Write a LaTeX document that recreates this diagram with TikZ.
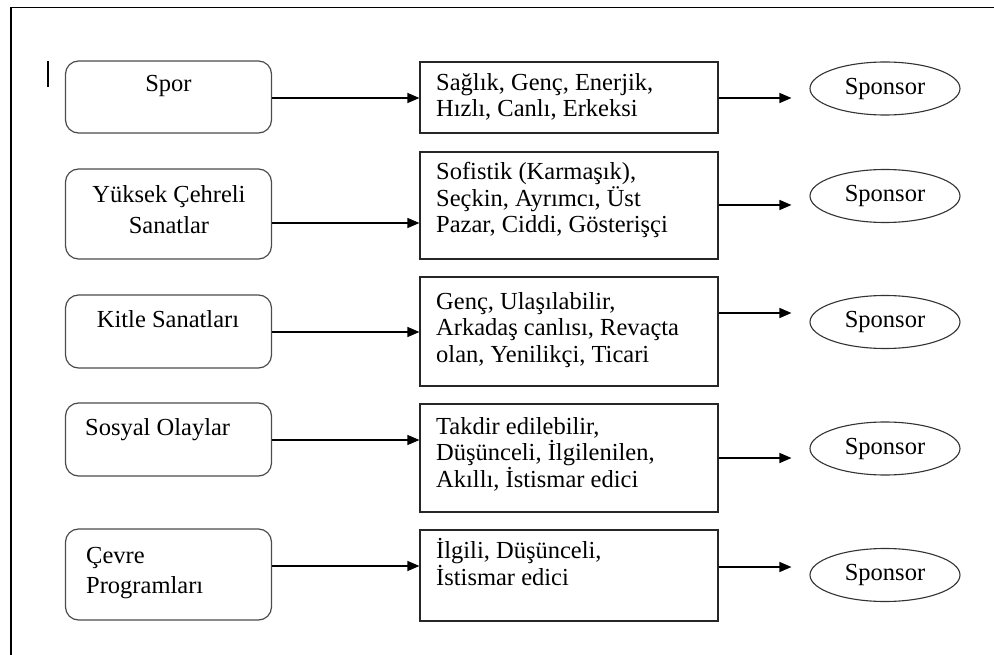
\documentclass[tikz,border=0pt]{standalone}
\usepackage{fontspec}
\setmainfont{Liberation Serif}
\usetikzlibrary{arrows.meta,shapes.geometric}

\tikzset{
  sidebox/.style={draw=black!70, line width=1.2pt, rounded corners=13pt,
    minimum width=206pt, inner sep=0pt},
  tagbox/.style={draw=black!85, line width=1.2pt, minimum width=298pt, inner sep=0pt},
  sponsor/.style={draw=black!80, line width=1.1pt, ellipse, minimum width=150pt,
    minimum height=53pt, inner sep=0pt, font=\fontsize{24.5}{26.5}\selectfont},
  txt/.style={inner sep=0pt, align=left, font=\fontsize{24.5}{26.5}\selectfont},
  ctxt/.style={inner sep=0pt, align=center, font=\fontsize{24.5}{31}\selectfont},
  arr/.style={draw=black, line width=1.3pt, -{Triangle[length=12pt,width=10pt]}},
}

\begin{document}
\begin{tikzpicture}[x=1pt, y={(0pt,-1pt)}]
  \useasboundingbox (0,0) rectangle (994,655);

  % outer frame (top and left edges)
  \draw[line width=1.4pt] (11,655) -- (11,7.5) -- (994,7.5);
  % small cursor mark
  \draw[line width=1.6pt] (48,61) -- (48,87);

  % left column: rounded boxes
  \node[sidebox, minimum height=72pt] (L1) at (168.5,97) {};
  \node[sidebox, minimum height=90pt] (L2) at (168.5,214) {};
  \node[sidebox, minimum height=73pt] (L3) at (168.5,331.5) {};
  \node[sidebox, minimum height=73pt] (L4) at (168.5,439.5) {};
  \node[sidebox, minimum height=91pt] (L5) at (168.5,574.5) {};

  % labels (anchored at the baseline of their last line)
  \node[ctxt, anchor=base] (t1) at (168.5,92) {Spor};
  \node[ctxt, anchor=base] (t2) at (169,234) {Yüksek Çehreli\\Sanatlar};
  \node[ctxt, anchor=base] (t3) at (168,327) {Kitle Sanatları};
  \node[txt, anchor=base west] (t4) at (85,435) {Sosyal Olaylar};
  \node[txt, anchor=base west, font=\fontsize{24.5}{30}\selectfont] (t5) at (86,593) {Çevre\\Programları};

  % middle column: attribute boxes
  \node[tagbox, minimum height=71pt] (M1) at (569,97.5) {};
  \node[tagbox, minimum height=107pt] (M2) at (569,205.5) {};
  \node[tagbox, minimum height=109pt] (M3) at (569,331.5) {};
  \node[tagbox, minimum height=108pt] (M4) at (569,458) {};
  \node[tagbox, minimum height=91pt] (M5) at (569,575.5) {};

  \node[txt, anchor=base west] (m1) at (436,117) {Sağlık, Genç, Enerjik,\\Hızlı, Canlı, Erkeksi};
  \node[txt, anchor=base west] (m2) at (436,233) {Sofistik (Karmaşık),\\Seçkin, Ayrımcı, Üst\\Pazar, Ciddi, Gösterişçi};
  \node[txt, anchor=base west] (m3) at (436,362) {Genç, Ulaşılabilir,\\Arkadaş canlısı, Revaçta\\olan, Yenilikçi, Ticari};
  \node[txt, anchor=base west] (m4) at (436,487) {Takdir edilebilir,\\Düşünceli, İlgilenilen,\\Akıllı, İstismar edici};
  \node[txt, anchor=base west] (m5) at (436,585) {İlgili, Düşünceli,\\İstismar edici};

  % right column: sponsor ellipses
  \node[sponsor] (E1) at (885,88.5) {Sponsor};
  \node[sponsor] (E2) at (885,196) {Sponsor};
  \node[sponsor] (E3) at (885,322) {Sponsor};
  \node[sponsor] (E4) at (885,448.5) {Sponsor};
  \node[sponsor] (E5) at (885,575) {Sponsor};

  % connectors: left boxes to attribute boxes
  \draw[arr] (L1.east |- 0,98)  -- (M1.west |- 0,98);
  \draw[arr] (L2.east |- 0,223) -- (M2.west |- 0,223);
  \draw[arr] (L3.east |- 0,332) -- (M3.west |- 0,332);
  \draw[arr] (L4.east |- 0,440) -- (M4.west |- 0,440);
  \draw[arr] (L5.east |- 0,566) -- (M5.west |- 0,566);

  % connectors: attribute boxes towards sponsors
  \draw[arr] (M1.east |- 0,98)  -- ([xshift=-18pt]E1.west |- 0,98);
  \draw[arr] (M2.east |- 0,205) -- ([xshift=-18pt]E2.west |- 0,205);
  \draw[arr] (M3.east |- 0,313) -- ([xshift=-18pt]E3.west |- 0,313);
  \draw[arr] (M4.east |- 0,458) -- ([xshift=-18pt]E4.west |- 0,458);
  \draw[arr] (M5.east |- 0,567) -- ([xshift=-18pt]E5.west |- 0,567);
\end{tikzpicture}
\end{document}
